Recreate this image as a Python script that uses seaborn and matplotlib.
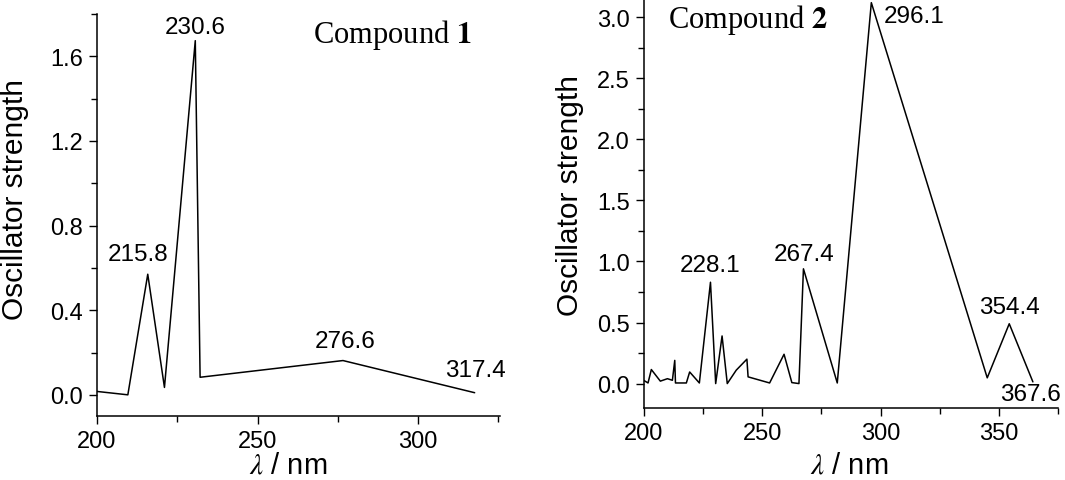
import matplotlib
matplotlib.use("Agg")
import matplotlib.pyplot as plt
import seaborn as sns
import pandas as pd
from matplotlib.ticker import MultipleLocator, FormatStrFormatter

# ---- data ----
wl1 = [200.0, 209.6, 215.8, 221.0, 230.6, 232.1, 276.6, 317.6]
f1 = [0.016, 0.0, 0.57, 0.035, 1.674, 0.083, 0.162, 0.01]
peaks1 = ["215.8", "230.6", "276.6", "317.4"]

wl2 = [200.0, 201.7, 203.1, 206.9, 209.9, 212.0, 213.0, 213.3, 217.9, 219.3,
       223.4, 228.1, 230.3, 233.0, 235.2, 239.0, 243.5, 244.0, 253.1, 259.2,
       262.5, 265.5, 267.4, 281.7, 296.1, 345.1, 354.4, 364.4]
f2 = [0.025, 0.005, 0.115, 0.02, 0.04, 0.027, 0.19, 0.005, 0.005, 0.095,
      0.005, 0.83, 0.0, 0.39, 0.0, 0.11, 0.2, 0.055, 0.005, 0.24,
      0.008, 0.0, 0.94, 0.005, 3.12, 0.047, 0.49, 0.014]
peaks2 = ["228.1", "267.4", "296.1", "354.4", "367.6"]

titles = ["Compound ", "Compound "]
numbers = ["1", "2"]

sns.set_theme(style="ticks")
plt.rcParams["font.family"] = ["Liberation Sans", "DejaVu Sans"]
plt.rcParams["mathtext.fontset"] = "stix"
plt.rcParams["text.color"] = "black"
plt.rcParams["axes.labelcolor"] = "black"
plt.rcParams["xtick.color"] = "black"
plt.rcParams["ytick.color"] = "black"

fig = plt.figure(figsize=(10.65, 4.81), dpi=100)
ax1 = fig.add_axes([0.0911, 0.1331, 0.3784, 0.8357])
ax2 = fig.add_axes([0.6047, 0.1497, 0.3887, 0.8503])

df1 = pd.DataFrame({"wl": wl1, "f": f1})
df2 = pd.DataFrame({"wl": wl2, "f": f2})
sns.lineplot(data=df1, x="wl", y="f", ax=ax1, color="black", lw=1.1,
             estimator=None, sort=False)
sns.lineplot(data=df2, x="wl", y="f", ax=ax2, color="black", lw=1.1,
             estimator=None, sort=False)

ax1.set_xlim(200, 325.5)
ax1.set_ylim(-0.1, 1.8)
ax2.set_xlim(200, 375)
ax2.set_ylim(-0.2, 3.15)

ax1.xaxis.set_major_locator(MultipleLocator(50))
ax1.xaxis.set_minor_locator(MultipleLocator(25))
ax1.yaxis.set_major_locator(MultipleLocator(0.4))
ax1.yaxis.set_minor_locator(MultipleLocator(0.2))
ax2.xaxis.set_major_locator(MultipleLocator(50))
ax2.xaxis.set_minor_locator(MultipleLocator(25))
ax2.yaxis.set_major_locator(MultipleLocator(0.5))
ax2.yaxis.set_minor_locator(MultipleLocator(0.25))

for ax in (ax1, ax2):
    sns.despine(ax=ax)
    for s in ("left", "bottom"):
        ax.spines[s].set_linewidth(1.1)
        ax.spines[s].set_color("black")
    ax.tick_params(which="major", direction="out", length=6, width=1.0,
                   labelsize=17, colors="black", pad=4)
    ax.tick_params(which="minor", direction="out", length=4, width=1.0,
                   color="black")
    ax.set_ylabel("Oscillator strength", fontsize=21.5)
    ax.set_xlabel(r"$\lambda$ / nm", fontsize=21)
    ax.yaxis.set_major_formatter(FormatStrFormatter("%.1f"))

ax1.yaxis.set_label_coords(-0.170, 0.54)
ax2.yaxis.set_label_coords(-0.145, 0.521)
ax1.xaxis.set_label_coords(0.474, -0.085)
ax2.xaxis.set_label_coords(0.495, -0.103)

fs = 17.5
ann1 = [(212.7, 0.666), (230.7, 1.738), (277.3, 0.256), (317.8, 0.115)]
for lab, (x, y) in zip(peaks1, ann1):
    ax1.text(x, y, lab, ha="center", va="center", fontsize=fs)
ann2 = [(227.8, 0.968), (267.5, 1.064), (314.3, 3.007), (354.6, 0.63), (363.3, -0.082)]
for lab, (x, y) in zip(peaks2, ann2):
    ax2.text(x, y, lab, ha="center", va="center", fontsize=fs)

ax1.text(291.9, 1.705, titles[0] + r"$\mathbf{" + numbers[0] + "}$",
         ha="center", va="center", fontsize=22, family=["Liberation Serif"])
ax2.text(243.9, 2.99, titles[1] + r"$\mathbf{" + numbers[1] + "}$",
         ha="center", va="center", fontsize=22, family=["Liberation Serif"])

fig.savefig("out.png", dpi=100)
